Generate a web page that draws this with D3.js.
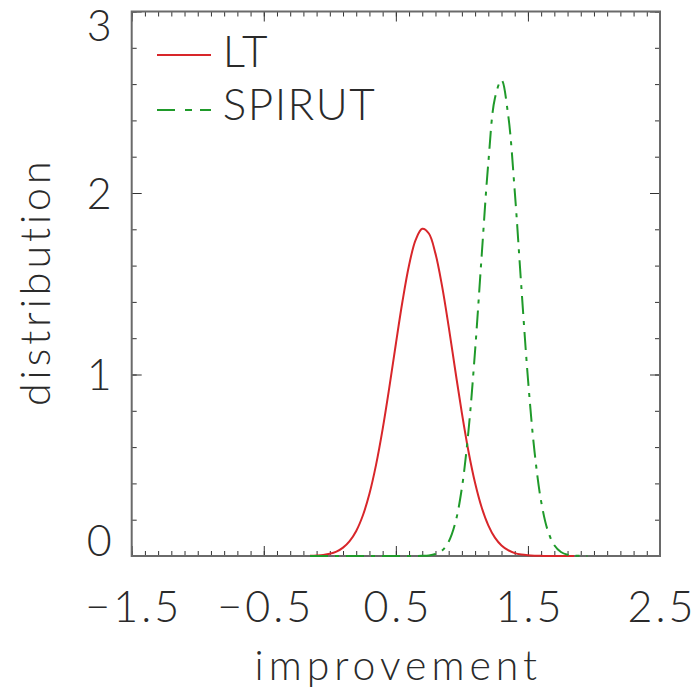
<!DOCTYPE html>
<html>
<head>
<meta charset="utf-8">
<script src="https://cdn.jsdelivr.net/npm/d3@7"></script>
<style>
  html, body { margin: 0; padding: 0; background: #fff; }
  svg text { font-family: Lato, "Open Sans", "DejaVu Sans", sans-serif; font-weight: 300; fill: #2a2a2a; }
</style>
</head>
<body>
<svg id="chart" width="696" height="692"></svg>
<script>
// ---- data ----
const seriesNames = ["LT", "SPIRUT"];

const xLT = [-0.15,-0.10,-0.05,0.00,0.05,0.10,0.15,0.20,0.25,0.30,0.35,0.40,0.45,0.50,0.55,0.60,0.65,0.70,0.75,0.80,
             0.85,0.90,0.95,1.00,1.05,1.10,1.15,1.20,1.25,1.30,1.35,1.40,1.45,1.50,1.55,1.60,1.65,1.70,1.75,1.80,1.85];
const yLT = [0.001,0.003,0.006,0.012,0.024,0.046,0.082,0.138,0.223,0.343,0.502,0.699,0.926,1.168,1.402,1.602,1.742,1.803,1.777,1.666,
             1.487,1.264,1.022,0.787,0.576,0.402,0.267,0.169,0.101,0.058,0.032,0.016,0.008,0.004,0.002,0.001,0.000,0.000,0.000,0.000,0.000];

const xSPIRUT = [-0.15,-0.10,-0.05,0.00,0.05,0.10,0.15,0.20,0.25,0.30,0.35,0.40,0.45,0.50,0.55,0.60,0.65,0.70,0.75,0.80,
                 0.85,0.90,0.95,1.00,1.05,1.10,1.15,1.20,1.25,1.30,1.35,1.40,1.45,1.50,1.55,1.60,1.65,1.70,1.75,1.80,1.85,1.90,1.95];
const ySPIRUT = [0,0,0,0,0,0,0,0,0,0,0,0,0,0,0,0,0.0002,0.0009,0.003,0.011,
                 0.030,0.079,0.182,0.375,0.690,1.132,1.657,2.165,2.522,2.622,2.432,2.012,1.485,0.978,0.575,0.301,0.141,0.059,0.022,0.007,0.002,0.0006,0.0001];

const xMajorTicks = [-1.5, -0.5, 0.5, 1.5, 2.5];
const xMinorTicks = d3.range(-15, 26).map(i => i / 10);
const yMajorTicks = [0, 1, 2, 3];
const yMinorTicks = d3.range(0, 16).map(i => i / 5);

// ---- layout ----
const plotLeft = 131.7, plotRight = 660, plotTop = 11.5, plotBottom = 556;
const FS = 43;
const tickLS = 3;

const svg = d3.select("#chart");
const x = d3.scaleLinear().domain([-1.5, 2.5]).range([plotLeft, plotRight]);
const y = d3.scaleLinear().domain([0, 3]).range([plotBottom, plotTop]);
const fmt = d3.format(".1f");

const tickColor = "#333";
function styleAxis(g) {
  g.select(".domain").remove();
  g.selectAll(".tick line").attr("stroke", tickColor).attr("stroke-width", 1);
}

// bottom
svg.append("g").attr("transform", `translate(0,${plotBottom})`)
  .call(d3.axisBottom(x).tickValues(xMinorTicks).tickSizeInner(-5).tickSizeOuter(0).tickFormat(""))
  .call(styleAxis);
const xAxisG = svg.append("g").attr("transform", `translate(0,${plotBottom})`)
  .call(d3.axisBottom(x).tickValues(xMajorTicks).tickSizeInner(-10).tickSizeOuter(0).tickPadding(35).tickFormat(fmt))
  .call(styleAxis);
xAxisG.attr("font-family", null).attr("font-size", null);
xAxisG.selectAll("text").attr("font-size", FS).style("fill", "#2a2a2a")
  .style("letter-spacing", tickLS + "px").attr("dx", tickLS / 2);

// top
svg.append("g").attr("transform", `translate(0,${plotTop})`)
  .call(d3.axisTop(x).tickValues(xMinorTicks).tickSizeInner(-5).tickSizeOuter(0).tickFormat(""))
  .call(styleAxis);
svg.append("g").attr("transform", `translate(0,${plotTop})`)
  .call(d3.axisTop(x).tickValues(xMajorTicks).tickSizeInner(-10).tickSizeOuter(0).tickFormat(""))
  .call(styleAxis);

// left
svg.append("g").attr("transform", `translate(${plotLeft},0)`)
  .call(d3.axisLeft(y).tickValues(yMinorTicks).tickSizeInner(-5).tickSizeOuter(0).tickFormat(""))
  .call(styleAxis);
const yAxisG = svg.append("g").attr("transform", `translate(${plotLeft},0)`)
  .call(d3.axisLeft(y).tickValues(yMajorTicks).tickSizeInner(-10).tickSizeOuter(0).tickPadding(20).tickFormat(d3.format("d")))
  .call(styleAxis);
yAxisG.attr("font-family", null).attr("font-size", null);
yAxisG.selectAll("text").attr("font-size", FS).style("fill", "#2a2a2a")
  .attr("dy", "0.36em")
  .attr("y", d => {
    const c = y(d);
    const lo = plotTop + 13.5, hi = plotBottom - 15.5;
    return Math.max(lo, Math.min(hi, c)) - c;
  });

// right
svg.append("g").attr("transform", `translate(${plotRight},0)`)
  .call(d3.axisRight(y).tickValues(yMinorTicks).tickSizeInner(-5).tickSizeOuter(0).tickFormat(""))
  .call(styleAxis);
svg.append("g").attr("transform", `translate(${plotRight},0)`)
  .call(d3.axisRight(y).tickValues(yMajorTicks).tickSizeInner(-10).tickSizeOuter(0).tickFormat(""))
  .call(styleAxis);

// frame
svg.append("rect")
  .attr("x", plotLeft).attr("y", plotTop).attr("width", plotRight - plotLeft).attr("height", plotBottom - plotTop)
  .attr("fill", "none").attr("stroke", "#6a6a6a").attr("stroke-width", 2);

// curves
const line = d3.line().x(d => x(d[0])).y(d => y(d[1])).curve(d3.curveCatmullRom);
const ltData = xLT.map((v, i) => [v, yLT[i]]);
const spData = xSPIRUT.map((v, i) => [v, ySPIRUT[i]]);

const red = "#d8262a", green = "#1f9a2a";
svg.append("path").datum(ltData).attr("d", line)
  .attr("fill", "none").attr("stroke", red).attr("stroke-width", 2);
svg.append("path").datum(spData).attr("d", line)
  .attr("fill", "none").attr("stroke", green).attr("stroke-width", 2)
  .attr("stroke-dasharray", "18,7,4,7");

// legend
const legend = svg.append("g");
const legendRows = [
  { name: seriesNames[0], color: red, dash: null, ly: 55, ty: 66.7 },
  { name: seriesNames[1], color: green, dash: "18,10,7,8", ly: 110, ty: 120 }
];
legendRows.forEach(r => {
  legend.append("line").attr("x1", 157).attr("x2", 211).attr("y1", r.ly).attr("y2", r.ly)
    .attr("stroke", r.color).attr("stroke-width", 2).attr("stroke-dasharray", r.dash);
  legend.append("text").attr("x", 222.7).attr("y", r.ty).attr("font-size", FS + 1)
    .style("letter-spacing", "1.5px").text(r.name);
});

// axis titles
const titleLSx = 5, titleLSy = 4;
svg.append("text").attr("x", (plotLeft + plotRight) / 2 + titleLSx / 2).attr("y", 680).attr("text-anchor", "middle")
  .attr("font-size", 41).style("letter-spacing", titleLSx + "px").text("improvement");
svg.append("text").attr("transform", `translate(50,${(plotTop + plotBottom) / 2 - titleLSy / 2}) rotate(-90)`)
  .attr("text-anchor", "middle").attr("font-size", 41).style("letter-spacing", titleLSy + "px").text("distribution");
</script>
</body>
</html>
